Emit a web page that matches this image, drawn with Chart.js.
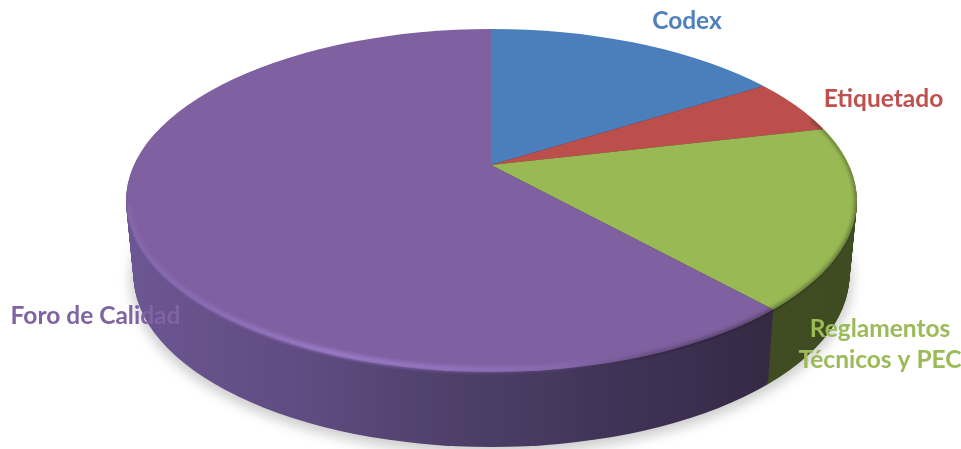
<!DOCTYPE html>
<html>
<head>
<meta charset="utf-8">
<style>html,body{margin:0;padding:0;background:#fff}canvas{display:block}</style>
<script src="https://cdn.jsdelivr.net/npm/chart.js@4"></script>
</head>
<body>
<canvas id="c" width="961" height="449"></canvas>
<script>
const categories = ["Codex", "Etiquetado", "Reglamentos Técnicos y PEC", "Foro de Calidad"];
const shares = [16.2, 5.2, 16.8, 61.8];
const faceColors = ["#4b7fbc", "#bc4f4c", "#99b955", "#7f60a0"];
const labelColors = ["#4f81bd", "#c0504d", "#9bbb59", "#8064a2"];
const labelLines = [["Codex"], ["Etiquetado"], ["Reglamentos", "Técnicos y PEC"], ["Foro de Calidad"]];

// view of the tilted disc
const top_ = {ax:491, ay:165, cx:491.5, cy:200.5, rx:365.5, ry:171.5};
const bot_ = {ax:487, ay:240, cx:491.5, cy:275, rx:358, ry:172};
const squash = 0.469, grow = 2.1;
const sideStops = [
  [[0,"#26304f"],[1,"#26304f"]],
  [[0,"#4a2625"],[1,"#4a2625"]],
  [[0,"#434f24"],[1,"#3f4c22"]],
  [[0,"#6c5693"],[0.25,"#5e4b80"],[0.45,"#4e3f69"],[0.7,"#3e3154"],[0.9,"#352843"],[1,"#332744"]]
];
const labelSpots = [[687,[21]],[883.5,[99]],[880,[329,360]],[95.5,[316]]];

function lerp(a,b,t){return a+(b-a)*t;}
function layer(t){const o={};for(const k in top_)o[k]=lerp(top_[k],bot_[k],t);return o;}
function ellipsePath(ctx,v){ctx.beginPath();ctx.ellipse(v.cx,v.cy,v.rx,v.ry,0,0,Math.PI*2);}
function place(ctx,v,el){
  ctx.translate(v.ax,v.ay);
  ctx.scale(grow,grow*squash);
  ctx.translate(-el.x,-el.y);
}

const disc3d = {
  id:"disc3d",
  beforeDatasetsDraw(chart){
    const ctx=chart.ctx, arcs=chart.getDatasetMeta(0).data;
    // soft ground shadow, below the disc only
    ctx.save();
    ctx.filter="blur(6px)";
    ctx.fillStyle="rgba(110,110,110,0.34)";
    ctx.beginPath();
    ctx.ellipse(bot_.cx,bot_.cy+4,bot_.rx+3,bot_.ry+3,0,0,Math.PI*2);
    ctx.fill();
    ctx.restore();
    // wall: the library's arcs repeated layer by layer
    for(let n=75;n>=1;n--){
      const v=layer(n/75);
      arcs.forEach((el,i)=>{
        ctx.save();
        ellipsePath(ctx,v);ctx.clip();
        place(ctx,v,el);
        const x0=el.x+(130-v.ax)/grow, x1=el.x+(860-v.ax)/grow;
        const g=ctx.createLinearGradient(x0,0,x1,0);
        sideStops[i].forEach(s=>g.addColorStop(s[0],s[1]));
        const keep=el.options;
        el.options=Object.assign({},keep,{backgroundColor:g,borderWidth:0});
        el.draw(ctx);
        el.options=keep;
        ctx.restore();
      });
    }
    // top face, drawn by the chart itself
    ctx.save();
    ellipsePath(ctx,top_);ctx.clip();
    if(arcs[0])place(ctx,top_,arcs[0]);
  },
  afterDatasetsDraw(chart){
    const ctx=chart.ctx;
    ctx.restore();
    // bevel highlight on the front-left rim
    ctx.save();
    ctx.beginPath();
    ctx.ellipse(top_.cx,top_.cy+1.5,top_.rx,top_.ry+1.5,0,0,Math.PI*2);
    ctx.clip();
    ctx.filter="blur(2px)";
    let g=ctx.createLinearGradient(126,0,640,0);
    g.addColorStop(0,"rgba(150,122,205,0.35)");
    g.addColorStop(0.1,"rgba(150,122,205,0.6)");
    g.addColorStop(0.4,"rgba(168,138,222,0.9)");
    g.addColorStop(0.65,"rgba(165,135,220,0.7)");
    g.addColorStop(1,"rgba(165,135,220,0)");
    ctx.strokeStyle=g;ctx.lineWidth=4;
    ctx.beginPath();
    ctx.ellipse(top_.cx,top_.cy,top_.rx-2.5,top_.ry-2.5,0,Math.PI*0.33,Math.PI*0.99);
    ctx.stroke();
    // dark soft edge on the front-right rim
    g=ctx.createLinearGradient(560,0,860,0);
    g.addColorStop(0,"rgba(30,24,40,0)");
    g.addColorStop(0.45,"rgba(30,24,40,0.6)");
    g.addColorStop(1,"rgba(40,50,20,0.75)");
    ctx.strokeStyle=g;ctx.lineWidth=3;
    ctx.beginPath();
    ctx.ellipse(top_.cx,top_.cy,top_.rx,top_.ry,0,-Math.PI*0.16,Math.PI*0.5);
    ctx.stroke();
    ctx.restore();
  },
  afterDraw(chart){
    const ctx=chart.ctx;
    ctx.save();
    ctx.font='bold 24.5px Lato, "Open Sans", sans-serif';
    ctx.textAlign="center";ctx.textBaseline="middle";
    labelLines.forEach((lines,i)=>{
      ctx.fillStyle=labelColors[i];
      lines.forEach((s,j)=>ctx.fillText(s,labelSpots[i][0],labelSpots[i][1][j]));
    });
    ctx.restore();
  }
};

new Chart(document.getElementById("c"),{
  type:"pie",
  data:{labels:categories,datasets:[{data:shares,backgroundColor:faceColors,borderWidth:0}]},
  options:{
    responsive:false,animation:false,events:[],
    layout:{padding:0},
    plugins:{legend:{display:false},tooltip:{enabled:false}}
  },
  plugins:[disc3d]
});
</script>
</body>
</html>
